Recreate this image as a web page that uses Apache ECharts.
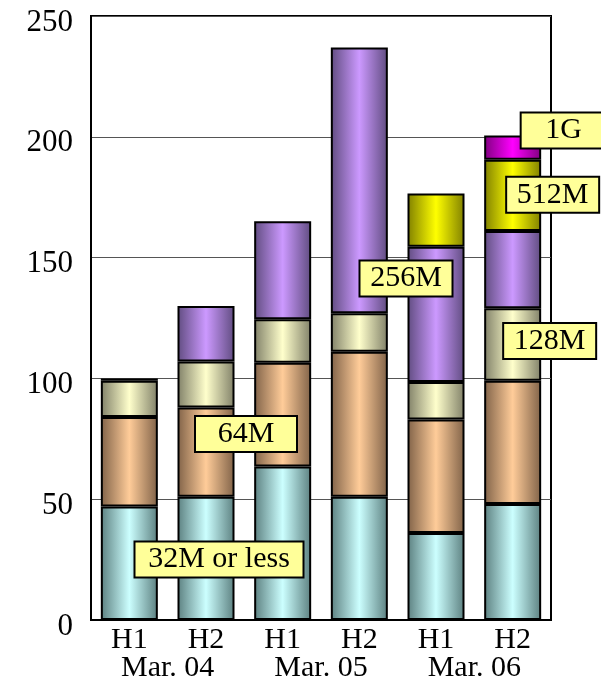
<!DOCTYPE html>
<html>
<head>
<meta charset="utf-8">
<script src="https://cdn.jsdelivr.net/npm/echarts@6/dist/echarts.min.js"></script>
<style>
  html, body { margin: 0; padding: 0; background: #fff; }
  #chart { width: 601px; height: 679px; }
</style>
</head>
<body>
<div id="chart"></div>
<script>
const halves = ["H1", "H2", "H1", "H2", "H1", "H2"];
const periods = ["Mar. 04", "Mar. 05", "Mar. 06"];
const yTicks = [0, 50, 100, 150, 200, 250];

// stacked from the bottom up, one value per half-year
const mem32 = [47, 51, 63.5, 51, 36, 48];
const mem64 = [37, 37, 43, 60, 47, 51];
const mem128 = [15, 19, 18, 16, 15.5, 30];
const mem256 = [1, 23, 40.5, 110, 56, 32];
const mem512 = ["-", "-", "-", "-", 22, 29.5];
const mem1g = ["-", "-", "-", "-", "-", 10];

// callout boxes: text, bar they sit by, value height
const calloutText = ["32M or less", "64M", "256M", "128M", "512M", "1G"];
const calloutBar = [1, 1, 4, 5, 5, 5];
const calloutValue = [25, 77, 141.3, 115.5, 176, 202.6];

const font = "Liberation Serif";

// dark edge, light centre
const shades = {
  "32M or less": ["#5c8080", "#ccffff"],
  "64M": ["#806248", "#ffcc99"],
  "128M": ["#808068", "#ffffcc"],
  "256M": ["#604c80", "#cc99ff"],
  "512M": ["#808000", "#ffff00"],
  "1G": ["#800080", "#ff00ff"],
};

function tube(name) {
  const [dark, light] = shades[name];
  return new echarts.graphic.LinearGradient(0, 0, 1, 0, [
    { offset: 0, color: dark },
    { offset: 0.5, color: light },
    { offset: 1, color: dark },
  ]);
}

const stacks = [
  ["32M or less", mem32],
  ["64M", mem64],
  ["128M", mem128],
  ["256M", mem256],
  ["512M", mem512],
  ["1G", mem1g],
];

const calloutShift = [13, 40, -30, 37, 40, 51];
const calloutWidth = [167, 100, 91, 91, 91, 84];

const chart = echarts.init(document.getElementById("chart"));

chart.setOption({
  animation: false,
  grid: {
    left: 91, right: 50, top: 16, bottom: 59,
    outerBoundsMode: "none",
    show: true, borderColor: "#000", borderWidth: 2,
  },
  xAxis: [
    {
      type: "category",
      data: halves,
      axisLine: { lineStyle: { color: "#000", width: 2 } },
      axisTick: { inside: true, length: 6, lineStyle: { color: "#000" } },
      axisLabel: { color: "#000", fontFamily: font, fontSize: 30, margin: 5 },
    },
    {
      type: "category",
      data: periods,
      position: "bottom",
      offset: 28,
      axisLine: { show: false },
      axisTick: { show: false },
      axisLabel: { color: "#000", fontFamily: font, fontSize: 30, margin: 5 },
    },
  ],
  yAxis: {
    type: "value",
    min: yTicks[0],
    max: yTicks[yTicks.length - 1],
    interval: 50,
    axisLine: { show: true, lineStyle: { color: "#000", width: 2 } },
    axisTick: { show: false },
    axisLabel: {
      color: "#000", fontFamily: font, fontSize: 31, margin: 18,
      verticalAlign: "top", lineHeight: 13,
    },
    splitLine: { lineStyle: { color: "#555", width: 1 } },
  },
  series: [
    ...stacks.map(([name, values]) => ({
      name: name,
      type: "bar",
      stack: "mem",
      xAxisIndex: 0,
      barWidth: 57,
      data: values,
      itemStyle: { color: tube(name), borderColor: "#000", borderWidth: 2 },
    })),
    {
      type: "scatter",
      xAxisIndex: 0,
      z: 10,
      symbolSize: 1,
      itemStyle: { color: "rgba(0,0,0,0)", opacity: 1 },
      silent: true,
      data: calloutText.map((t, i) => ({
        value: [calloutBar[i], calloutValue[i]],
        name: t,
        label: { offset: [calloutShift[i], 0], width: calloutWidth[i] },
      })),
      label: {
        show: true,
        position: "inside",
        formatter: (p) => p.name,
        color: "#000",
        fontFamily: font,
        fontSize: 30,
        lineHeight: 30,
        align: "center",
        backgroundColor: "#ffff99",
        borderColor: "#000",
        borderWidth: 2,
        padding: [2, 0],
      },
    },
  ],
});
</script>
</body>
</html>
